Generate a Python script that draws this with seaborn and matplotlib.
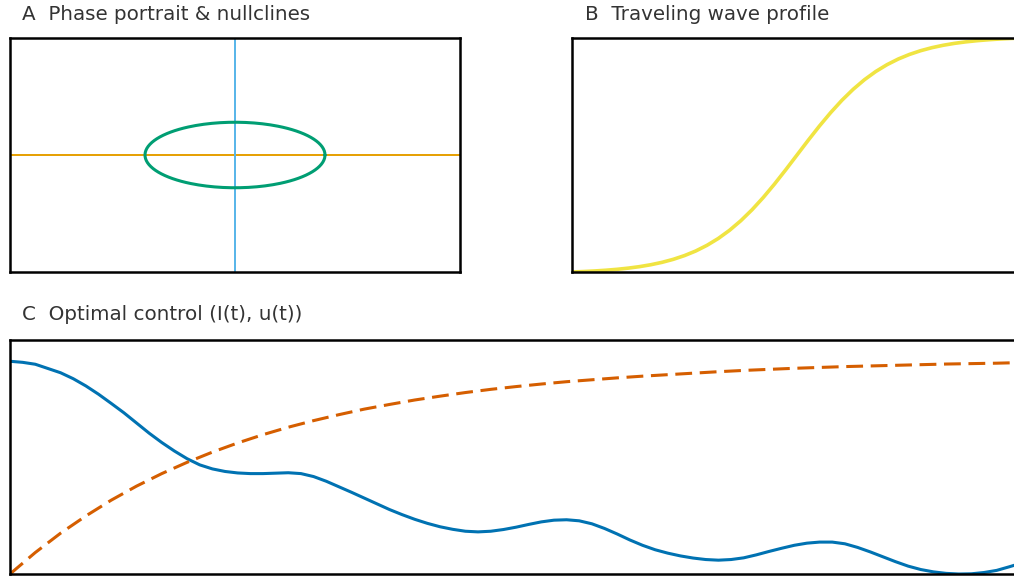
import numpy as np
import pandas as pd
import matplotlib
matplotlib.use("Agg")
import matplotlib.pyplot as plt
import seaborn as sns

# panel A: nullclines and a closed orbit
null_x = [-2.5, 2.5]          # horizontal nullcline (y = 0)
null_y = [-2.0, 2.0]          # vertical nullcline (x = 0)
orbit_center = (0.0, 0.0)
orbit_radii = (1.0, 0.56)

# panel B: traveling wave profile
xi = [-10, -9.5, -9, -8.5, -8, -7.5, -7, -6.5, -6, -5.5, -5, -4.5, -4, -3.5, -3, -2.5,
      -2, -1.5, -1, -0.5, 0, 0.5, 1, 1.5, 2, 2.5, 3, 3.5, 4, 4.5, 5, 5.5, 6, 6.5, 7,
      7.5, 8, 8.5, 9, 9.5, 10]
wave = [0.0067, 0.0086, 0.0110, 0.0141, 0.0180, 0.0230, 0.0293, 0.0373, 0.0474, 0.0601,
        0.0759, 0.0953, 0.1192, 0.1480, 0.1824, 0.2227, 0.2689, 0.3208, 0.3775, 0.4378,
        0.5000, 0.5622, 0.6225, 0.6792, 0.7311, 0.7773, 0.8176, 0.8520, 0.8808, 0.9047,
        0.9241, 0.9399, 0.9526, 0.9627, 0.9707, 0.9770, 0.9820, 0.9859, 0.9890, 0.9914,
        0.9933]

# panel C: optimal control
t_state = [i * 0.125 for i in range(81)]
I_t = [1.000, 0.995, 0.986, 0.966, 0.946, 0.918, 0.884, 0.845, 0.802, 0.758, 0.710,
       0.662, 0.618, 0.578, 0.542, 0.513, 0.494, 0.482, 0.475, 0.472, 0.472, 0.474,
       0.476, 0.472, 0.458, 0.436, 0.410, 0.384, 0.357, 0.330, 0.303, 0.279, 0.257,
       0.238, 0.222, 0.210, 0.201, 0.198, 0.201, 0.209, 0.220, 0.233, 0.245, 0.253,
       0.255, 0.250, 0.236, 0.214, 0.188, 0.160, 0.135, 0.114, 0.098, 0.085, 0.075,
       0.068, 0.065, 0.068, 0.076, 0.090, 0.106, 0.121, 0.135, 0.145, 0.150, 0.150,
       0.142, 0.125, 0.104, 0.081, 0.058, 0.037, 0.021, 0.010, 0.003, 0.000, 0.001,
       0.007, 0.017, 0.034, 0.052]
t_ctrl = [i * 0.25 for i in range(41)]
u_t = [0.000, 0.101, 0.192, 0.273, 0.347, 0.413, 0.472, 0.525, 0.573, 0.616, 0.655,
       0.690, 0.721, 0.749, 0.775, 0.797, 0.818, 0.836, 0.853, 0.868, 0.881, 0.893,
       0.904, 0.913, 0.922, 0.930, 0.937, 0.944, 0.951, 0.957, 0.962, 0.967, 0.971,
       0.975, 0.978, 0.981, 0.984, 0.987, 0.989, 0.991, 0.994]

sns.set_style("white")
plt.rcParams["font.family"] = ["DejaVu Sans"]

fig = plt.figure(figsize=(10.14, 5.77), dpi=100)
W, H = 1014, 577

def px_axes(left, top, width, height):
    return fig.add_axes([left / W, 1 - (top + height) / H, width / W, height / H])

axA = px_axes(10, 38, 450, 234)
axB = px_axes(572, 38, 450, 234)
axC = px_axes(10, 340, 1012, 234)

# A
sns.lineplot(x=null_x, y=[0, 0], ax=axA, color="#E69F00", lw=1.4)
sns.lineplot(x=[0, 0], y=null_y, ax=axA, color="#56B4E9", lw=1.4,
             estimator=None, sort=False)
theta = np.linspace(0, 2 * np.pi, 200)
orbit = pd.DataFrame({"x": orbit_center[0] + orbit_radii[0] * np.cos(theta),
                      "y": orbit_center[1] + orbit_radii[1] * np.sin(theta)})
sns.lineplot(data=orbit, x="x", y="y", ax=axA, sort=False, estimator=None,
             color="#009E73", lw=2.2)
axA.set_xlim(null_x)
axA.set_ylim(null_y)

# B
sns.lineplot(x=xi, y=wave, ax=axB, color="#F0E442", lw=2.6)
axB.set_xlim(min(xi), max(xi))
axB.set_ylim(min(wave), max(wave))

# C
sns.lineplot(x=t_state, y=I_t, ax=axC, color="#0072B2", lw=2.2)
sns.lineplot(x=t_ctrl, y=u_t, ax=axC, color="#D55E00", lw=2.2)
axC.lines[-1].set_dashes((5.5, 2.5))
axC.set_xlim(0, 10)
axC.set_ylim(0, 1.1)

for ax in (axA, axB, axC):
    ax.set_xticks([])
    ax.set_yticks([])
    ax.set_xlabel("")
    ax.set_ylabel("")
    for s in ax.spines.values():
        s.set_visible(True)
        s.set_color("black")
        s.set_linewidth(1.8)

for x, y, label in [(22, 15, "A  Phase portrait & nullclines"),
                    (585, 15, "B  Traveling wave profile"),
                    (22, 315, "C  Optimal control (I(t), u(t))")]:
    fig.text(x / W, 1 - y / H, label, fontsize=14.3, color="#333333",
             va="center", ha="left")

fig.savefig("out.png", dpi=100)
